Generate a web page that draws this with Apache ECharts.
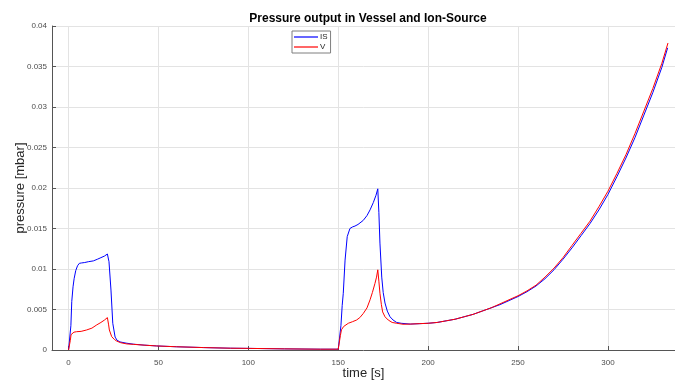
<!DOCTYPE html>
<html>
<head>
<meta charset="utf-8">
<script src="https://cdn.jsdelivr.net/npm/echarts@6/dist/echarts.min.js"></script>
<style>
html,body{margin:0;padding:0;background:#fff;}
#c{width:675px;height:381px;}
</style>
</head>
<body>
<div id="c"></div>
<script>
// Ion-Source (IS) pressure
const timeIS = [0,0.8,1.3,1.8,2.5,3.1,4,5,6,7.3,9,11,13.8,16,18,20,21.6,22.5,23.6,24.6,25.9,27,28.6,32,36,42,49,60,75,90,100,120,140,150,
  150.8,151.5,152.2,152.8,153.8,155,156.5,158,159.3,161,163.9,166,167.7,169.5,171,172,172.6,173.2,174.2,175,176,177.3,178.8,180.5,182.5,185,190,
  195,200,205,210,215,220,225,230,235,240,245,250,255,260,265,270,275,280,285,290,295,300,305,310,315,320,325,330,333.2];
const valuesIS = [0,0,0.003,0.006,0.0078,0.0088,0.0098,0.0104,0.0107,0.01075,0.0108,0.0109,0.0110,0.0112,0.0114,0.0116,0.01185,0.0109,0.0074,0.0033,0.0016,0.0012,0.0010,0.00085,0.00072,0.0006,0.0005,0.0004,0.0003,0.00022,0.0002,0.00014,0.0001,0.0001,
  0.0001,0.003,0.0055,0.0070,0.0111,0.0140,0.0150,0.0152,0.0153,0.0155,0.0160,0.0166,0.0173,0.0182,0.0191,0.0199,0.0170,0.0132,0.0090,0.0071,0.0058,0.0048,0.0041,0.0037,0.0034,0.0033,0.0032,
  0.00325,0.0033,0.0034,0.0036,0.0038,0.0041,0.0044,0.0048,0.0052,0.0056,0.0061,0.0066,0.0072,0.0079,0.0088,0.0099,0.0112,0.0126,0.0141,0.0156,0.0173,0.0192,0.0214,0.0237,0.0262,0.0290,0.0318,0.0349,0.0373];

// Vessel (V) pressure
const timeV = [0,0.7,1.0,1.4,2,3,4.5,7,10,13,15.7,18,20,21.6,22.3,22.7,24,25.5,26.8,29,32.4,36,42,49,60,75,90,100,120,140,150,
  150.8,151.2,151.8,153,155.6,158,160.2,162,163.9,166,167.7,169,170.4,171.3,172,172.6,173.2,174,174.7,176,177.8,180,182.5,186,190,
  195,200,205,210,215,220,225,230,235,240,245,250,255,260,265,270,275,280,285,290,295,300,305,310,315,320,325,330,333.4];
const valuesV = [0,0,0.0012,0.0019,0.0021,0.0022,0.00226,0.0023,0.00247,0.0027,0.0031,0.0034,0.0037,0.0040,0.0031,0.00247,0.00165,0.0013,0.0011,0.0009,0.00075,0.0007,0.0006,0.0005,0.0004,0.0003,0.00022,0.0002,0.00014,0.0001,0.0001,
  0.0001,0.0018,0.0025,0.0029,0.0033,0.0035,0.0037,0.0040,0.0045,0.0052,0.0062,0.0071,0.0082,0.0090,0.0099,0.0085,0.0070,0.0056,0.0047,0.0041,0.0037,0.0034,0.0033,0.00318,0.0032,
  0.00325,0.0033,0.0034,0.0036,0.0038,0.0041,0.0044,0.0048,0.0052,0.0057,0.0062,0.0067,0.0073,0.0080,0.0090,0.0101,0.0114,0.0129,0.0144,0.0159,0.0177,0.0196,0.0218,0.0241,0.0267,0.0295,0.0323,0.0354,0.0379];

const xTickStep = 50;
const yTickStep = 0.005;

const seriesNames = ['IS','V'];
const seriesColors = ['#0000ff','#ff0000'];

const pair = (t, v) => t.map((x, i) => [x, v[i]]);

const chart = echarts.init(document.getElementById('c'));
chart.setOption({
  animation: false,
  backgroundColor: '#ffffff',
  title: {
    text: 'Pressure output in Vessel and Ion-Source',
    left: 363, top: 8, textAlign: 'center',
    textStyle: {fontFamily: 'Liberation Sans, Arial', fontWeight: 'bold', fontSize: 12, color: '#000'}
  },
  legend: {
    data: seriesNames,
    left: 292, top: 31,
    orient: 'vertical',
    icon: 'rect',
    itemWidth: 24, itemHeight: 1.2,
    itemGap: 0,
    padding: [1, 3, 1, 2],
    borderColor: '#7f7f7f', borderWidth: 1,
    backgroundColor: '#fff',
    textStyle: {fontFamily: 'Liberation Sans, Arial', fontSize: 8, color: '#262626', lineHeight: 10, padding: [0,0,0,-3]}
  },
  grid: {left: 52, right: 0, top: 26, bottom: 31, containLabel: false, outerBoundsMode: 'none'},
  xAxis: {
    type: 'value', min: -9.2, max: 337.3, splitNumber: 5,
    name: 'time [s]', nameLocation: 'middle', nameGap: 17, nameMoveOverlap: false,
    nameTextStyle: {fontFamily: 'Liberation Sans, Arial', fontSize: 13, color: '#262626'},
    axisLine: {show: true, onZero: false, lineStyle: {color: '#555', width: 1}},
    axisTick: {show: true, inside: true, length: 4, lineStyle: {color: '#555'}},
    axisLabel: {
      fontFamily: 'Liberation Sans, Arial', fontSize: 8, color: '#4d4d4d', margin: 9,
      formatter: v => (Math.abs(v - Math.round(v / xTickStep) * xTickStep) < 1e-6 ? String(Math.round(v)) : '')
    },
    splitLine: {show: true, showMinLine: false, showMaxLine: false, lineStyle: {color: '#e3e3e3', width: 1}}
  },
  yAxis: {
    type: 'value', min: 0, max: 0.04, interval: yTickStep,
    name: 'pressure [mbar]', nameLocation: 'middle', nameGap: 25, nameMoveOverlap: false,
    nameTextStyle: {fontFamily: 'Liberation Sans, Arial', fontSize: 13, color: '#262626'},
    axisLine: {show: true, onZero: false, lineStyle: {color: '#555', width: 1}},
    axisTick: {show: true, inside: true, length: 4, lineStyle: {color: '#555'}},
    axisLabel: {
      fontFamily: 'Liberation Sans, Arial', fontSize: 8, color: '#4d4d4d', margin: 5,
      formatter: v => String(+v.toFixed(3))
    },
    splitLine: {show: true, showMinLine: false, lineStyle: {color: '#e3e3e3', width: 1}}
  },
  series: [
    {name: seriesNames[0], type: 'line', data: pair(timeIS, valuesIS), showSymbol: false,
     color: seriesColors[0], lineStyle: {width: 1, color: seriesColors[0]}},
    {name: seriesNames[1], type: 'line', data: pair(timeV, valuesV), showSymbol: false,
     color: seriesColors[1], lineStyle: {width: 1, color: seriesColors[1]}}
  ]
});
</script>
</body>
</html>
